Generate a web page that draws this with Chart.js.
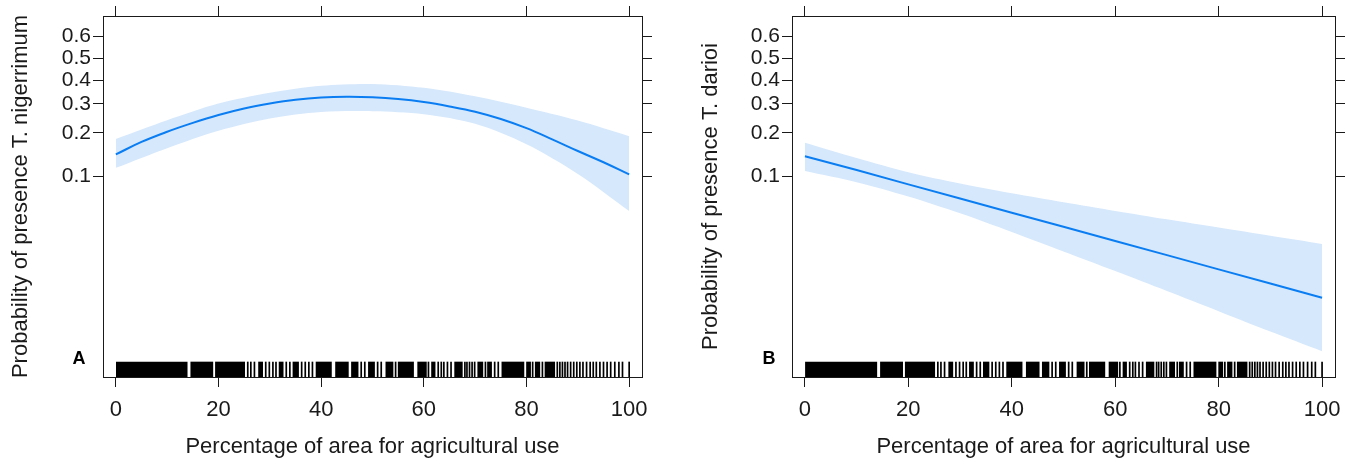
<!DOCTYPE html>
<html>
<head>
<meta charset="utf-8">
<script src="https://cdn.jsdelivr.net/npm/chart.js@4.4.1/dist/chart.umd.min.js"></script>
<style>
  html, body { margin: 0; padding: 0; background: #fff; }
  #wrap { position: relative; width: 1356px; height: 464px; }
  .panel { position: absolute; top: 0; width: 678px; height: 464px; }
</style>
</head>
<body>
<div id="wrap">
  <div class="panel" style="left:0"><canvas id="chartA" width="678" height="464"></canvas></div>
  <div class="panel" style="left:678px"><canvas id="chartB" width="678" height="464"></canvas></div>
</div>
<script>
/* tick values */
const xTicks = [0, 20, 40, 60, 80, 100];
const probTicks = [0.1, 0.2, 0.3, 0.4, 0.5, 0.6];
const probTickLabels = ['0.1', '0.2', '0.3', '0.4', '0.5', '0.6'];

/* panel A: T. nigerrimum (probabilities) */
const fitXA = [0, 5, 10, 15, 20, 25, 30, 35, 40, 45, 50, 55, 60, 65, 70, 75, 80, 85, 90, 95, 100];
const nigFit = [0.143, 0.174, 0.203, 0.231, 0.258, 0.282, 0.301, 0.316, 0.325, 0.328, 0.326,
                0.319, 0.307, 0.290, 0.270, 0.244, 0.214, 0.181, 0.151, 0.126, 0.103];
const bandX = [0, 10, 20, 30, 40, 50, 60, 70, 80, 90, 100];
const nigUpper = [0.182, 0.240, 0.301, 0.345, 0.375, 0.383, 0.366, 0.330, 0.285, 0.239, 0.190];
const nigLower = [0.115, 0.158, 0.206, 0.246, 0.269, 0.272, 0.261, 0.228, 0.168, 0.104, 0.055];

/* panel B: T. darioi */
const darFit   = [0.139, 0.111, 0.0872, 0.0684, 0.0533, 0.0415, 0.0322, 0.0249, 0.0192, 0.0148, 0.0114];
const darUpper = [0.172, 0.135, 0.107, 0.0884, 0.0747, 0.0640, 0.0550, 0.0474, 0.0409, 0.0353, 0.0305];
const darLower = [0.109, 0.0903, 0.0707, 0.0527, 0.0378, 0.0266, 0.0186, 0.0129, 0.0089, 0.0061, 0.00424];

/* rug of observed % agricultural area: dense runs and single ticks */
const rugSpans = [[0, 13.9], [14.6, 18.9], [19.4, 25.1], [27.8, 28.6], [31.8, 32.6], [34.5, 35.6],
  [39.0, 42.0], [42.8, 45.3], [45.9, 47.2], [49.2, 50.4], [52.6, 54.0], [55.0, 58.0], [58.8, 60.5],
  [61.5, 62.2], [66.0, 67.5], [70.5, 71.5], [72.4, 73.2], [75.2, 79.5], [80.0, 80.8], [81.7, 82.6],
  [83.6, 85.5]];
const rugTicks = [25.7, 26.3, 27.0, 29.2, 29.9, 30.6, 31.2, 33.2, 33.9, 36.2, 36.9, 37.6, 38.3,
  47.8, 48.5, 51.0, 51.7, 54.5, 60.9, 62.8, 63.4, 63.9, 64.6, 65.3, 68.0, 68.4, 68.9, 69.4, 69.9,
  72.0, 73.8, 74.5, 81.2, 83.1, 86.0, 86.5, 87.0, 87.5, 88.0, 88.6, 89.2, 89.8, 90.4, 91.0, 91.7,
  92.4, 93.0, 93.6, 94.3, 95.0, 95.7, 96.4, 97.2, 98.0, 98.7, 100];

const FONT = '"Liberation Sans", Arial, sans-serif';
const INK = '#1a1a1a';
const LINE_BLUE = '#0a7df2';
const BAND_BLUE = '#d6e8fc';
const X_MIN = -2.5, X_MAX = 102.5;
const Y_MIN = -5.94, Y_MAX = 0.79;   // logit scale limits

const logit = p => Math.log(p / (1 - p));
const toPts = (xs, ps) => xs.map((x, i) => ({ x, y: logit(ps[i]) }));

function rugData() {
  const spans = rugSpans.map(s => ({ x: s, y: Y_MIN }));
  const ticks = rugTicks.map(v => ({ x: [v - 0.1, v + 0.1], y: Y_MIN }));
  return spans.concat(ticks);
}

/* panel letter (A / B) left of the rug */
const panelLetter = {
  id: 'panelLetter',
  afterDraw(chart, args, opts) {
    const { ctx, chartArea } = chart;
    ctx.save();
    ctx.font = 'bold 18px ' + FONT;
    ctx.fillStyle = '#000';
    ctx.textAlign = 'center';
    ctx.textBaseline = 'middle';
    ctx.fillText(opts.text, chartArea.left - opts.dx, chartArea.bottom - 18);
    ctx.restore();
  }
};

function makeScales(cfg) {
  const gridOpts = { drawOnChartArea: false, drawTicks: true, tickLength: 10, color: INK, lineWidth: 1, offset: false };
  const borderOpts = { display: true, color: INK, width: 1 };
  const setXTicks = s => { s.ticks = xTicks.map(v => ({ value: v })); };
  const setYTicks = s => { s.ticks = probTicks.map(p => ({ value: logit(p) })); };
  return {
    x: {
      type: 'linear', position: 'bottom', min: X_MIN, max: X_MAX, offset: false,
      afterBuildTicks: setXTicks,
      afterFit: s => { s.height = 87; },
      grid: gridOpts, border: borderOpts,
      ticks: { color: INK, font: { family: FONT, size: 22 }, padding: 10, maxRotation: 0, autoSkip: false },
      title: { display: true, text: 'Percentage of area for agricultural use', color: INK,
               font: { family: FONT, size: 22 }, padding: { top: 0, bottom: 4 } }
    },
    x2: {
      type: 'linear', position: 'top', min: X_MIN, max: X_MAX, offset: false,
      afterBuildTicks: setXTicks,
      afterFit: s => { s.height = 16; },
      grid: gridOpts, border: borderOpts,
      ticks: { display: false }
    },
    y: {
      type: 'linear', position: 'left', min: Y_MIN, max: Y_MAX, offset: false,
      afterBuildTicks: setYTicks,
      afterFit: s => { s.width = cfg.leftW; },
      grid: gridOpts, border: borderOpts,
      ticks: { color: INK, font: { family: FONT, size: 21 }, padding: 2, autoSkip: false,
               callback: (v, i) => probTickLabels[i] },
      title: { display: true, text: cfg.yTitle, color: INK,
               font: { family: FONT, size: 22 }, padding: { top: cfg.titlePad, bottom: 0 } }
    },
    y2: {
      type: 'linear', position: 'right', min: Y_MIN, max: Y_MAX, offset: false,
      afterBuildTicks: setYTicks,
      afterFit: s => { s.width = cfg.rightW; },
      grid: gridOpts, border: borderOpts,
      ticks: { display: false }
    }
  };
}

function makePanel(id, cfg) {
  return new Chart(document.getElementById(id), {
    type: 'line',
    data: {
      datasets: [
        { label: 'upper', data: toPts(bandX, cfg.upper), fill: '+1', backgroundColor: BAND_BLUE,
          borderWidth: 0, pointRadius: 0, tension: 0.3, order: 3 },
        { label: 'lower', data: toPts(bandX, cfg.lower), fill: false,
          borderWidth: 0, pointRadius: 0, tension: 0.3, order: 4 },
        { label: 'fit', data: toPts(cfg.fitX, cfg.fit), fill: false, borderColor: LINE_BLUE,
          borderWidth: 2, pointRadius: 0, tension: cfg.tension, order: 1 },
        { type: 'bar', label: 'rug', indexAxis: 'y', data: rugData(), backgroundColor: '#000',
          borderWidth: 0, barThickness: 30, clip: 0, xAxisID: 'x', yAxisID: 'y', order: 2 }
      ]
    },
    options: {
      responsive: false,
      animation: false,
      events: [],
      layout: { padding: 0 },
      plugins: {
        legend: { display: false },
        tooltip: { enabled: false },
        panelLetter: { text: cfg.letter, dx: cfg.letterDx }
      },
      scales: makeScales(cfg)
    },
    plugins: [panelLetter]
  });
}

makePanel('chartA', {
  fitX: fitXA, fit: nigFit, upper: nigUpper, lower: nigLower, tension: 0.4,
  yTitle: 'Probability of presence T. nigerrimum', letter: 'A', letterDx: 24,
  leftW: 103, rightW: 36, titlePad: 8
});
makePanel('chartB', {
  fitX: bandX, fit: darFit, upper: darUpper, lower: darLower, tension: 0,
  yTitle: 'Probability of presence T. darioi', letter: 'B', letterDx: 23,
  leftW: 114, rightW: 21, titlePad: 20
});
</script>
</body>
</html>
